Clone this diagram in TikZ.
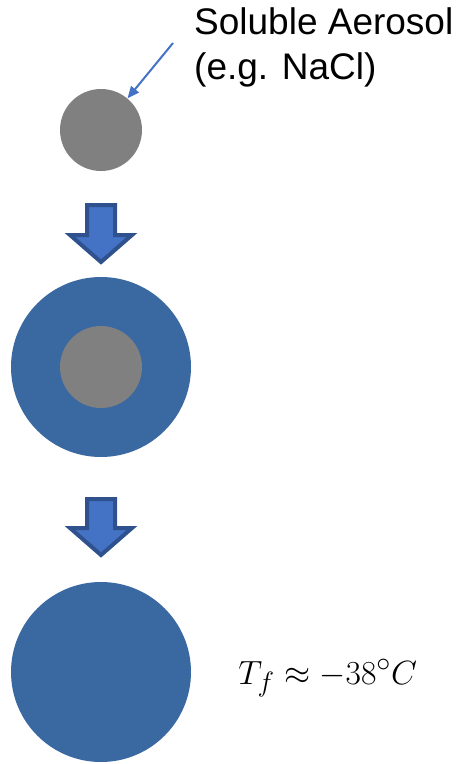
\documentclass[tikz,border=0pt]{standalone}
\usepackage{fontspec}
\setmainfont{Liberation Sans}
\usetikzlibrary{shapes.arrows,arrows.meta}
\definecolor{dropblue}{HTML}{3A68A0}
\definecolor{coregrey}{HTML}{808080}
\definecolor{arrowfill}{HTML}{4472C4}
\definecolor{arrowedge}{HTML}{2F528F}
\tikzset{
  core/.style={circle,fill=coregrey,minimum size=82pt,inner sep=0pt},
  drop/.style={circle,fill=dropblue,minimum size=180pt,inner sep=0pt},
  stagearrow/.style={fill=arrowfill,draw=arrowedge,line width=4pt,line join=miter},
  label/.style={font=\fontsize{37}{45}\selectfont,align=left,inner sep=0pt,anchor=north west},
}
\begin{document}
\begin{tikzpicture}[x=1pt,y=-1pt]
\useasboundingbox (0,0) rectangle (459,764);
% stage 1: dry soluble particle
\node[core] (dry) at (101,130) {};
% stage 2: particle dissolving in a droplet
\node[drop] (wet) at (101,367) {};
\node[core] (wetcore) at (101,367) {};
% stage 3: solution droplet
\node[drop] (sol) at (101,672) {};
% block arrows between stages
\draw[stagearrow] (87,205) -- (115,205) -- (115,235) -- (132,235) -- (101,262) -- (70,235) -- (87,235) -- cycle;
\draw[stagearrow] (87,499) -- (115,499) -- (115,528) -- (132,528) -- (101,555) -- (70,528) -- (87,528) -- cycle;
% labels
\node[label] (aerosol) at (194,7) {Soluble Aerosol\\(e.g. NaCl)};
\coordinate (pointer) at (173,43);
\draw[arrowfill,line width=2pt,-{Triangle[length=12pt,width=10pt]}] (pointer) -- (dry.50);
\node[inner sep=0pt,anchor=base west,font=\fontsize{24.88}{30}\selectfont,scale=1.35,transform shape=false] (tf) at (238,684) {$T_f \approx -38^\circ C$};
\end{tikzpicture}
\end{document}
